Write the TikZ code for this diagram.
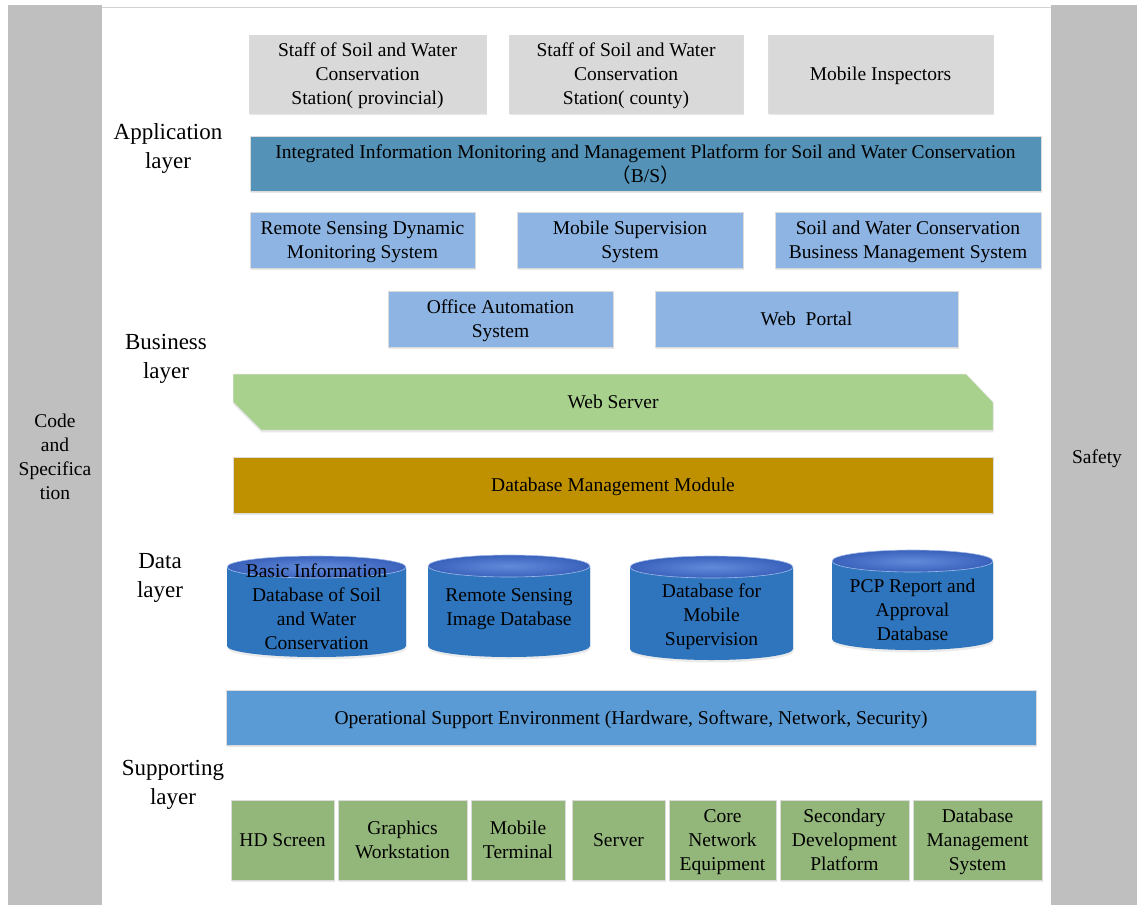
\documentclass[tikz,border=0pt]{standalone}
\usepackage{fontspec}
\setmainfont{Liberation Serif}
\newfontfamily\cjkfont{Noto Sans CJK SC}
\usepackage{tikz}
\usetikzlibrary{shadows}
\usepackage{xcolor}
\definecolor{sidegray}{RGB}{191,191,191}
\definecolor{staffgray}{RGB}{217,217,217}
\definecolor{platblue}{RGB}{84,146,183}
\definecolor{sysblue}{RGB}{141,180,226}
\definecolor{webgreen}{RGB}{169,209,142}
\definecolor{dbgold}{RGB}{191,144,0}
\definecolor{dbbody}{RGB}{46,117,190}
\definecolor{dbtop}{RGB}{58,98,188}
\definecolor{dbtoplight}{RGB}{98,138,218}
\definecolor{envblue}{RGB}{91,155,213}
\definecolor{hwgreen}{RGB}{147,183,122}

\tikzset{
  layerbox/.style={draw=black!14, line width=0.5pt, align=center, inner sep=0pt, text depth=0pt,
    font=\fontsize{19.5}{24}\selectfont,
    general shadow={fill=black!9, shadow xshift=0.6pt, shadow yshift=-2.4pt}},
  staffbox/.style={layerbox, fill=staffgray},
  sysbox/.style={layerbox, fill=sysblue},
  hwbox/.style={layerbox, fill=hwgreen, minimum height=80pt},
  plaintext/.style={align=center, inner sep=0pt, text depth=0pt, font=\fontsize{19.5}{24}\selectfont},
  layerlabel/.style={align=center, inner sep=0pt, text depth=0pt, font=\fontsize{23}{29}\selectfont}
}

\begin{document}
\begin{tikzpicture}[x=1pt, y=-1pt]
  \useasboundingbox (0,0) rectangle (1137,905);
  \fill[white] (0,0) rectangle (1137,905);

  % side bars
  \fill[sidegray] (8,5) rectangle (102,905);
  \fill[sidegray] (1051,5) rectangle (1137,905);
  \draw[black!18, line width=1pt] (102,7) -- (1051,7);
  \node[plaintext] (code) at (55,457) {Code\\and\\Specifica\\tion};
  \node[plaintext] (safety) at (1097,457) {Safety};

  % layer names
  \node[layerlabel] (applayer) at (168,146) {Application\\layer};
  \node[layerlabel] (buslayer) at (166,356) {Business\\layer};
  \node[layerlabel] (datalayer) at (160,575) {Data\\layer};
  \node[layerlabel] (suplayer) at (173,782) {Supporting\\layer};

  % application layer
  \node[staffbox, minimum width=237pt, minimum height=78pt] (provstaff) at (367.5,74)
    {Staff of Soil and Water\\Conservation\\Station( provincial)};
  \node[staffbox, minimum width=234pt, minimum height=78pt] (countystaff) at (626,74)
    {Staff of Soil and Water\\Conservation\\Station( county)};
  \node[staffbox, minimum width=225pt, minimum height=78pt] (inspectors) at (880.5,74)
    {Mobile Inspectors};
  \node[layerbox, fill=platblue, minimum width=791pt, minimum height=55pt] (platform) at (645.5,163.5)
    {Integrated Information Monitoring and Management Platform for Soil and Water Conservation\\{\cjkfont （}B/S{\cjkfont ）}};

  % business layer
  \node[sysbox, minimum width=225pt, minimum height=56pt] (rsdms) at (362.5,240)
    {Remote Sensing Dynamic\\Monitoring System};
  \node[sysbox, minimum width=226pt, minimum height=56pt] (mss) at (630,240)
    {Mobile Supervision\\System};
  \node[sysbox, minimum width=266pt, minimum height=56pt] (bms) at (908,240)
    {Soil and Water Conservation\\Business Management System};
  \node[sysbox, minimum width=225pt, minimum height=56pt] (oas) at (500.5,319)
    {Office Automation\\System};
  \node[sysbox, minimum width=303pt, minimum height=56pt] (portal) at (806.5,319)
    {Web~ Portal};

  % web server band
  \fill[black!9, shift={(0.6,2.4)}] (233,374) -- (966,374) -- (993,402) -- (993,430) -- (261,430) -- (233,402) -- cycle;
  \filldraw[fill=webgreen, draw=black!10, line width=0.5pt] (233,374) -- (966,374) -- (993,402) -- (993,430) -- (261,430) -- (233,402) -- cycle;
  \node[plaintext] (websrv) at (613,402) {Web Server};

  \node[layerbox, fill=dbgold, minimum width=760pt, minimum height=56pt] (dbmodule) at (613,485)
    {Database Management Module};

  % data layer cylinders
  \foreach \nm/\cx/\rx/\ytop/\ybot/\ty/\txt in {
      basicdb/316.5/89.5/567/646/607/{Basic Information\\Database of Soil\\and Water\\Conservation},
      rsdb/509/81/566/646/607/{Remote Sensing\\Image Database},
      mobiledb/711.5/81.5/567/649/615/{Database for\\Mobile\\Supervision},
      pcpdb/912.5/80.5/561/639/610/{PCP Report and\\Approval\\Database}} {
    \fill[black!8, shift={(0.6,2.4)}] (\cx-\rx,\ytop) -- (\cx-\rx,\ybot)
      arc[start angle=180, end angle=0, x radius=\rx, y radius=11] -- (\cx+\rx,\ytop) -- cycle;
    \fill[dbbody] (\cx-\rx,\ytop) -- (\cx-\rx,\ybot)
      arc[start angle=180, end angle=0, x radius=\rx, y radius=11] -- (\cx+\rx,\ytop) -- cycle;
    \shade[inner color=dbtoplight, outer color=dbtop] (\cx,\ytop) ellipse[x radius=\rx, y radius=11];
    \draw[dbtoplight!60!white, line width=0.6pt] (\cx,\ytop) ellipse[x radius=\rx, y radius=11];
    \node[plaintext] (\nm) at (\cx,\ty) {\txt};
  }

  % supporting layer
  \node[layerbox, fill=envblue, minimum width=810pt, minimum height=55pt] (envir) at (631,717.5)
    {Operational Support Environment (Hardware, Software, Network, Security)};
  \foreach \nm/\cx/\w/\txt in {
      hdscreen/282.5/103/{HD Screen},
      workstation/402.5/129/{Graphics\\Workstation},
      terminal/518/94/{Mobile\\Terminal},
      server/618.5/93/{Server},
      network/722.5/107/{Core\\Network\\Equipment},
      devplat/844.5/129/{Secondary\\Development\\Platform},
      dbms/977.5/129/{Database\\Management\\System}} {
    \node[hwbox, minimum width=\w pt] (\nm) at (\cx,840) {\txt};
  }
\end{tikzpicture}
\end{document}
